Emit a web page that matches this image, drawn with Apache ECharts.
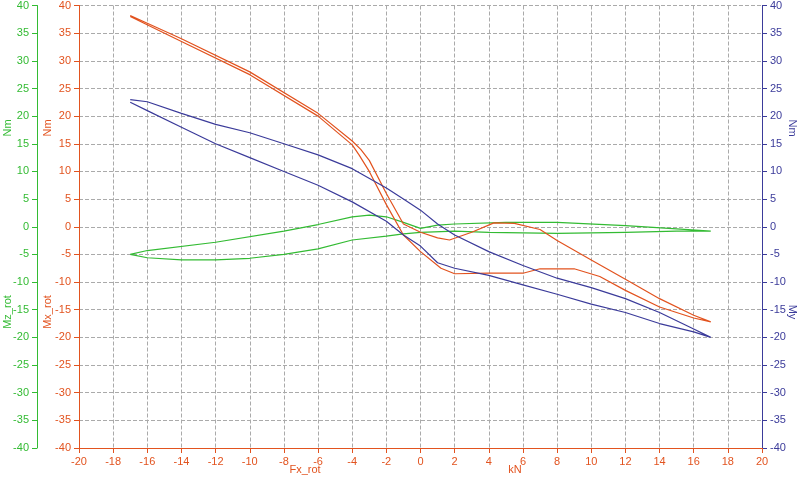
<!DOCTYPE html>
<html>
<head>
<meta charset="UTF-8">
<script src="https://cdn.jsdelivr.net/npm/echarts@6/dist/echarts.min.js"></script>
<style>html,body{margin:0;background:#fff}#main{width:800px;height:477px}</style>
</head>
<body>
<div id="main"></div>
<script>
// loops traced as [Fx_rot, value]
var mxRot = [[-17,38.2],[-14,34],[-10,28],[-6,20.5],[-4,15.5],[-3.5,14],[-3,12],[-2,6],[-1,0.5],[0,-1],[1,-2],[1.7,-2.4],[3,-1],[4.3,0.7],[5.5,0.6],[7,-0.5],[8,-2.5],[10,-6],[12,-9.5],[14,-13],[16,-16],[17,-17.2],
             [16,-16.5],[14,-14.5],[12,-11.5],[10.5,-9],[9,-7.6],[7,-7.6],[6,-8.4],[4,-8.4],[2,-8.5],[1.2,-7.5],[0,-4.5],[-1,-1.5],[-2,4],[-3,10],[-3.6,13],[-4,14.8],[-6,20],[-10,27.5],[-14,33.5],[-17,38]];
var mzRot = [[-17,-5],[-16,-4.3],[-12,-2.8],[-8,-0.8],[-6,0.4],[-4,1.8],[-3,2.1],[-2,1.8],[-1,0.8],[0,-0.3],[1,0.3],[2,0.5],[5,0.8],[8,0.8],[12,0.2],[15,-0.4],[17,-0.8],
             [15,-0.8],[12,-1],[8,-1.2],[4,-1],[2,-0.8],[0,-1],[-1,-1.3],[-2,-1.7],[-4,-2.4],[-6,-4],[-8,-5],[-10,-5.7],[-12,-6],[-14,-6],[-16,-5.6],[-17,-5]];
var myVals = [[-17,23],[-16,22.6],[-14,20.5],[-12,18.5],[-10,17],[-8,15],[-6,13],[-4,10.5],[-2,7],[-1,5],[0,3],[1,0.5],[2,-1.5],[4,-4.5],[6,-7],[8,-9.3],[10,-11],[12,-13],[14,-15.5],[16,-18.5],[17,-20],
           [16,-19],[14,-17.5],[12,-15.5],[10,-14],[8,-12.2],[6,-10.5],[4,-8.8],[2,-7.5],[1,-6.5],[0,-3.5],[-1,-1.5],[-2,1],[-4,4.5],[-6,7.5],[-8,10],[-10,12.5],[-12,15],[-14,18],[-16,21],[-17,22.5]];

var green = '#33bb33', red = '#e2531f', blue = '#3b3b9a';
var chart = echarts.init(document.getElementById('main'));
function yAx(color, pos, offset, grid) {
  return {type:'value', min:-40, max:40, interval:5, position:pos, offset:offset,
    axisLine:{show:true, onZero:false, lineStyle:{color:color}}, axisTick:{show:true, inside:false},
    axisLabel:{color:color, fontSize:11, fontFamily:'Arial'},
    splitLine:{show:grid, lineStyle:{color:'#aaa', type:'dashed'}}};
}
function txt(x, y, s, color, rot) {
  return {type:'text', x:x, y:y, rotation:rot, style:{text:s, fill:color, font:'11px Arial', align:'center', verticalAlign:'middle'}};
}
chart.setOption({
  animation:false,
  grid:{left:79, right:38, top:5, bottom:29},
  xAxis:{type:'value', min:-20, max:20, interval:2,
    axisLine:{onZero:false, lineStyle:{color:red}}, axisLabel:{color:red, fontSize:11, fontFamily:'Arial'},
    splitLine:{lineStyle:{color:'#aaa', type:'dashed'}}},
  yAxis:[yAx(red,'left',0,true), yAx(green,'left',42,false), yAx(blue,'right',0,false)],
  graphic:[txt(48,128,'Nm',red,Math.PI/2), txt(48,312,'Mx_rot',red,Math.PI/2),
           txt(8,128,'Nm',green,Math.PI/2), txt(8,312,'Mz_rot',green,Math.PI/2),
           txt(792,128,'Nm',blue,-Math.PI/2), txt(792,312,'My',blue,-Math.PI/2),
           txt(305,470,'Fx_rot',red,0), txt(515,470,'kN',red,0)],
  series:[
    {type:'line', yAxisIndex:1, data:mzRot, showSymbol:false, lineStyle:{color:green, width:1.2}},
    {type:'line', yAxisIndex:0, data:mxRot, showSymbol:false, lineStyle:{color:red, width:1.2}},
    {type:'line', yAxisIndex:2, data:myVals, showSymbol:false, lineStyle:{color:blue, width:1.2}}
  ]
});
</script>
</body>
</html>
